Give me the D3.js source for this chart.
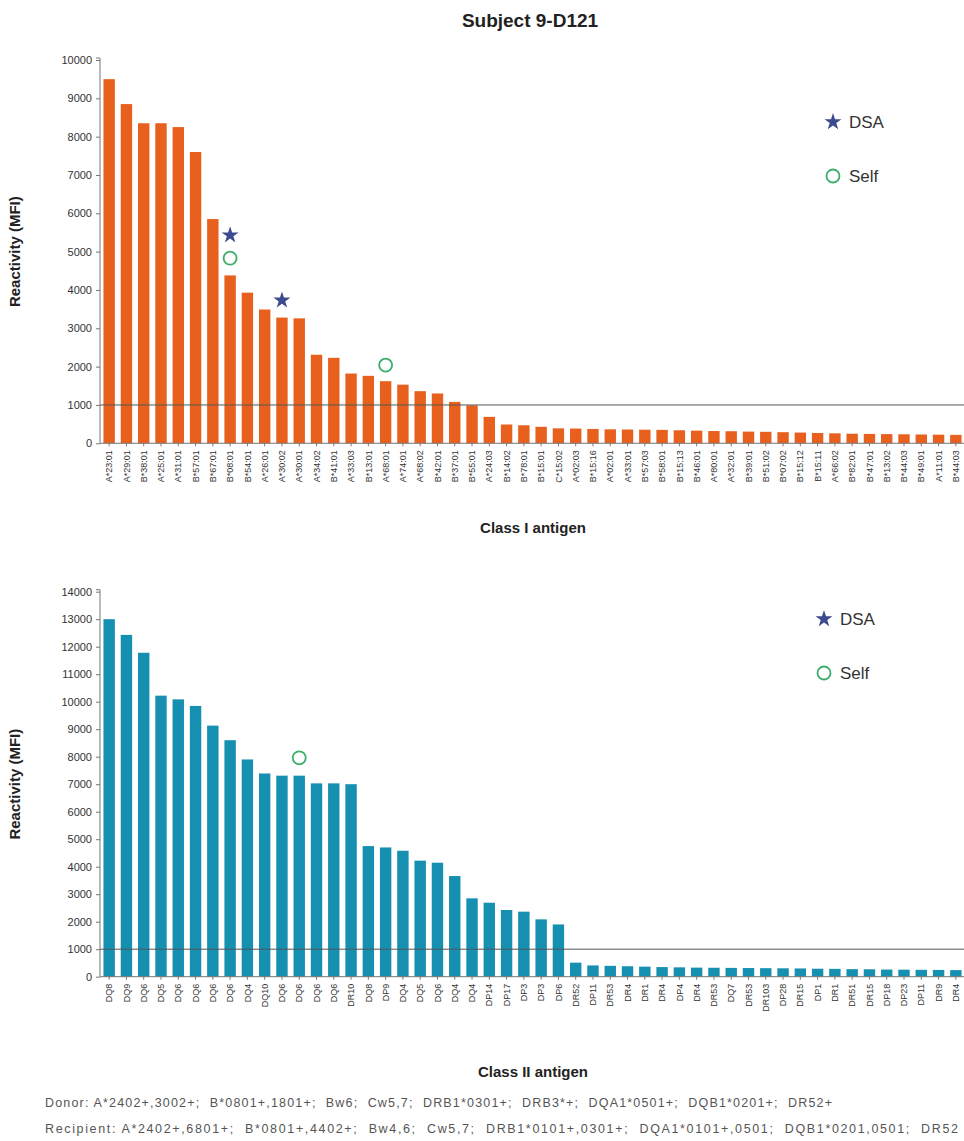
<!DOCTYPE html>
<html><head><meta charset="utf-8">
<script src="https://cdn.jsdelivr.net/npm/d3@7"></script>
<style>
body{margin:0;background:#fff;}
text{font-family:"Liberation Sans",Arial,sans-serif;}
</style></head>
<body>
<svg id="chart" width="964" height="1141"></svg>
<script>
// ---- data ----
const classILabels = ["A*23:01","A*29:01","B*38:01","A*25:01","A*31:01","B*57:01","B*67:01","B*08:01","B*54:01","A*26:01",
"A*30:02","A*30:01","A*34:02","B*41:01","A*33:03","B*13:01","A*68:01","A*74:01","A*68:02","B*42:01",
"B*37:01","B*55:01","A*24:03","B*14:02","B*78:01","B*15:01","C*15:02","A*02:03","B*15:16","A*02:01",
"A*33:01","B*57:03","B*58:01","B*15:13","B*46:01","A*80:01","A*32:01","B*39:01","B*51:02","B*07:02",
"B*15:12","B*15:11","A*66:02","B*82:01","B*47:01","B*13:02","B*44:03","B*49:01","A*11:01","B*44:03"];
const classIValues = [9500,8850,8350,8350,8250,7600,5850,4380,3930,3490,
3280,3260,2310,2230,1820,1760,1620,1530,1360,1300,
1080,990,690,490,470,430,390,385,375,365,
360,355,350,340,330,320,315,305,300,290,
280,270,260,250,245,240,235,230,225,220];
const classIDSA = [{label:"B*08:01", mark:5430},{label:"A*30:02", mark:3730}];
const classISelf = [{label:"B*08:01", mark:4830},{label:"A*68:01", mark:2040}];

const classIILabels = ["DQ8","DQ9","DQ6","DQ5","DQ6","DQ6","DQ6","DQ6","DQ4","DQ10",
"DQ6","DQ6","DQ6","DQ6","DR10","DQ8","DP9","DQ4","DQ5","DQ6",
"DQ4","DQ4","DP14","DP17","DP3","DP3","DP6","DR52","DP11","DR53",
"DR4","DR1","DR4","DP4","DR4","DR53","DQ7","DR53","DR103","DP28",
"DR15","DP1","DR1","DR51","DR15","DP18","DP23","DP11","DR9","DR4"];
const classIIValues = [13000,12430,11780,10220,10085,9845,9130,8600,7900,7390,
7310,7310,7030,7030,7000,4750,4700,4580,4220,4145,
3660,2850,2690,2425,2365,2085,1900,510,410,395,
380,365,350,340,330,325,320,315,310,305,
300,290,285,275,270,260,255,250,245,240];
const classIIDSA = [];
const classIISelf = [{label:"DQ6#12", mark:7960}];

const cutoff = 1000;
const titleText = "Subject 9-D121";
const donorText = "Donor: A*2402+,3002+;  B*0801+,1801+;  Bw6;  Cw5,7;  DRB1*0301+;  DRB3*+;  DQA1*0501+;  DQB1*0201+;  DR52+";
const recipText = "Recipient: A*2402+,6801+;  B*0801+,4402+;  Bw4,6;  Cw5,7;  DRB1*0101+,0301+;  DQA1*0101+,0501;  DQB1*0201,0501;  DR52";

// ---- drawing ----
const svg = d3.select("#chart");
svg.append("text").attr("x",530).attr("y",27).attr("text-anchor","middle")
  .attr("font-size",19).attr("font-weight","bold").attr("fill","#222").text(titleText);

function panel(o){
  const g = svg.append("g");
  const keys = o.labels.map((d,i)=>i);
  const x = d3.scaleBand().domain(keys).range([100,965]).paddingInner(0.34).paddingOuter(0.2);
  const y = d3.scaleLinear().domain([0,o.max]).range([o.y0,o.y1]);
  g.selectAll("rect.bar").data(o.values).join("rect").attr("class","bar")
    .attr("x",(d,i)=>x(i)).attr("width",x.bandwidth())
    .attr("y",d=>y(d)).attr("height",d=>o.y0-y(d)).attr("fill",o.color);
  g.append("line").attr("x1",100).attr("x2",964).attr("y1",y(cutoff)).attr("y2",y(cutoff))
    .attr("stroke","#555").attr("stroke-width",1);
  const ya = g.append("g").attr("transform","translate(100,0)")
    .call(d3.axisLeft(y).tickValues(d3.range(0,o.max+1,1000)).tickSize(4).tickPadding(4).tickFormat(d3.format("d")));
  ya.select(".domain").attr("stroke","#777").attr("d",`M-4,${o.y1-2}H0V${o.y0}`);
  ya.selectAll(".tick line").attr("stroke","#777");
  ya.selectAll("text").attr("font-size",11).attr("fill","#333").attr("font-family","Liberation Sans, Arial, sans-serif");
  const xa = g.append("g").attr("transform",`translate(0,${o.y0})`)
    .call(d3.axisBottom(x).tickSize(3).tickPadding(6).tickFormat(i=>o.labels[i]));
  xa.select(".domain").attr("stroke","#777").attr("d",`M100,0H964`);
  xa.selectAll(".tick line").attr("stroke","#777");
  xa.selectAll("text").attr("font-size",9).attr("fill","#333")
    .attr("font-family","Liberation Sans, Arial, sans-serif")
    .attr("text-anchor","end").attr("transform","rotate(-90)")
    .attr("x",-7).attr("y",0).attr("dy","0.35em");
  g.append("text").attr("transform",`translate(20,${(o.y0+o.y1)/2}) rotate(-90)`)
    .attr("text-anchor","middle").attr("font-size",15).attr("font-weight","bold").attr("fill","#222")
    .text("Reactivity (MFI)");
  g.append("text").attr("x",533).attr("y",o.titleY).attr("text-anchor","middle")
    .attr("font-size",15).attr("font-weight","bold").attr("fill","#222").text(o.xTitle);
  const idx = lab => { if(lab.includes("#")) return +lab.split("#")[1]-1; return o.labels.indexOf(lab); };
  const star = d3.symbol().type(d3.symbolStar).size(90);
  g.selectAll("path.dsa").data(o.dsa).join("path").attr("class","dsa")
    .attr("d",star).attr("fill","#3d4a8f")
    .attr("transform",d=>`translate(${x(idx(d.label))+x.bandwidth()/2},${y(d.mark)})`);
  g.selectAll("circle.self").data(o.self).join("circle").attr("class","self")
    .attr("cx",d=>x(idx(d.label))+x.bandwidth()/2).attr("cy",d=>y(d.mark)).attr("r",6.5)
    .attr("fill","none").attr("stroke","#3dae6a").attr("stroke-width",1.8);
  const lg = g.append("g").attr("transform",`translate(${o.legX},${o.legY})`);
  lg.append("path").attr("d",star).attr("fill","#3d4a8f");
  lg.append("text").attr("x",16).attr("y",6).attr("font-size",17).attr("fill","#333").text("DSA");
  lg.append("circle").attr("cx",0).attr("cy",54).attr("r",6.5).attr("fill","none")
    .attr("stroke","#3dae6a").attr("stroke-width",1.8);
  lg.append("text").attr("x",16).attr("y",60).attr("font-size",17).attr("fill","#333").text("Self");
}

panel({labels:classILabels, values:classIValues, dsa:classIDSA, self:classISelf, max:10000,
  y0:443.3, y1:60, color:"#e8601e", xTitle:"Class I antigen", titleY:533, legX:833, legY:122});
panel({labels:classIILabels, values:classIIValues, dsa:classIIDSA, self:classIISelf, max:14000,
  y0:976.7, y1:591.7, color:"#1690b0", xTitle:"Class II antigen", titleY:1077, legX:824, legY:619});

svg.append("text").attr("x",45).attr("y",1107).attr("font-size",12.5).attr("fill","#555")
  .attr("xml:space","preserve").attr("textLength",787).attr("lengthAdjust","spacing").text(donorText);
svg.append("text").attr("x",45).attr("y",1133).attr("font-size",12.5).attr("fill","#555")
  .attr("xml:space","preserve").attr("textLength",913).attr("lengthAdjust","spacing").text(recipText);
</script>
</body></html>
